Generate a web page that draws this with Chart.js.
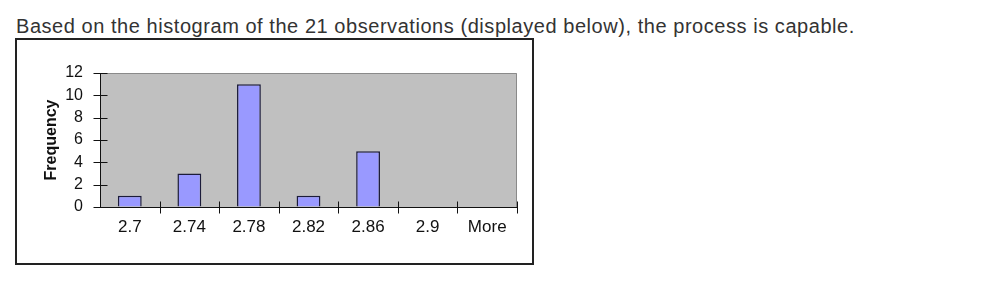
<!DOCTYPE html>
<html>
<head>
<meta charset="utf-8">
<script src="https://cdn.jsdelivr.net/npm/chart.js@4/dist/chart.umd.min.js"></script>
<style>
    body { margin: 0; background: #fff; font-family: "Liberation Sans", Arial, sans-serif; }
    #title {
        position: absolute; left: 16px; top: 15px;
        font-size: 20px; letter-spacing: 0.55px; color: #333; white-space: nowrap;
    }
    #box {
        position: absolute; left: 15px; top: 38px;
        width: 515px; height: 223px;
        border: 2px solid #222;
    }
    #box canvas { display: block; }
</style>
</head>
<body>
<div id="title">Based on the histogram of the 21 observations (displayed below), the process is capable.</div>
<div id="box"><canvas id="histChart" width="515" height="223"></canvas></div>
<script>
const binLabels = ['2.7', '2.74', '2.78', '2.82', '2.86', '2.9', 'More'];
const frequencies = [1, 3, 11, 1, 5, 0, 0];
const yTicks = [0, 2, 4, 6, 8, 10, 12];

// 灰色绘图区背景 + 上/右边框
const plotBackground = {
    id: 'plotBackground',
    beforeDraw(chart) {
        const { ctx, chartArea: a } = chart;
        ctx.save();
        ctx.fillStyle = '#c0c0c0';
        ctx.fillRect(a.left, a.top, a.right - a.left, a.bottom - a.top);
        ctx.strokeStyle = '#8a8a8a';
        ctx.lineWidth = 1;
        ctx.beginPath();
        ctx.moveTo(a.left, a.top + 0.5);
        ctx.lineTo(a.right - 0.5, a.top + 0.5);
        ctx.lineTo(a.right - 0.5, a.bottom);
        ctx.stroke();
        ctx.restore();
    }
};

// 穿过坐标轴的刻度线
const crossTicks = {
    id: 'crossTicks',
    afterDraw(chart) {
        const { ctx } = chart;
        const x = chart.scales.x;
        const y = chart.scales.y;
        ctx.save();
        ctx.strokeStyle = '#111';
        ctx.lineWidth = 1;
        ctx.beginPath();
        const axisX = Math.round(y.right) + 0.5;
        yTicks.forEach(v => {
            const py = Math.round(y.getPixelForValue(v)) + 0.5;
            ctx.moveTo(axisX - 7, py);
            ctx.lineTo(axisX + 7, py);
        });
        const axisY = Math.round(x.top) + 0.5;
        for (let i = 1; i <= binLabels.length; i++) {
            const px = Math.round(x.getPixelForValue(i - 0.5)) + 0.5;
            ctx.moveTo(px, axisY - 6);
            ctx.lineTo(px, axisY + 6);
        }
        ctx.stroke();
        ctx.restore();
    }
};

new Chart(document.getElementById('histChart').getContext('2d'), {
    type: 'bar',
    data: {
        labels: binLabels,
        datasets: [{
            label: 'Frequency',
            data: frequencies,
            backgroundColor: '#9999ff',
            borderColor: '#1c1c3a',
            borderWidth: 1.5,
            borderSkipped: 'bottom',
            categoryPercentage: 1,
            barPercentage: 0.4
        }]
    },
    options: {
        responsive: false,
        animation: false,
        layout: { padding: { left: 21, top: 33, right: 15, bottom: 0 } },
        plugins: {
            legend: { display: false },
            tooltip: { enabled: false }
        },
        scales: {
            x: {
                offset: true,
                grid: { display: true, drawOnChartArea: false, drawTicks: false, offset: true },
                border: { display: true, color: '#111', width: 1 },
                ticks: {
                    padding: 10,
                    color: '#111',
                    font: { family: 'Liberation Sans', size: 17 }
                },
                afterFit: (scale) => { scale.height = 56; }
            },
            y: {
                min: 0,
                max: 12,
                grid: { display: true, drawOnChartArea: false, drawTicks: false },
                border: { display: true, color: '#111', width: 1 },
                ticks: {
                    stepSize: 2,
                    padding: 17,
                    color: '#111',
                    font: { family: 'Liberation Sans', size: 16 }
                },
                title: {
                    display: true,
                    text: 'Frequency',
                    color: '#111',
                    padding: 4,
                    font: { family: 'Liberation Sans', size: 16, weight: 'bold' }
                },
                afterFit: (scale) => { scale.width = 62; }
            }
        }
    },
    plugins: [plotBackground, crossTicks]
});
</script>
</body>
</html>
